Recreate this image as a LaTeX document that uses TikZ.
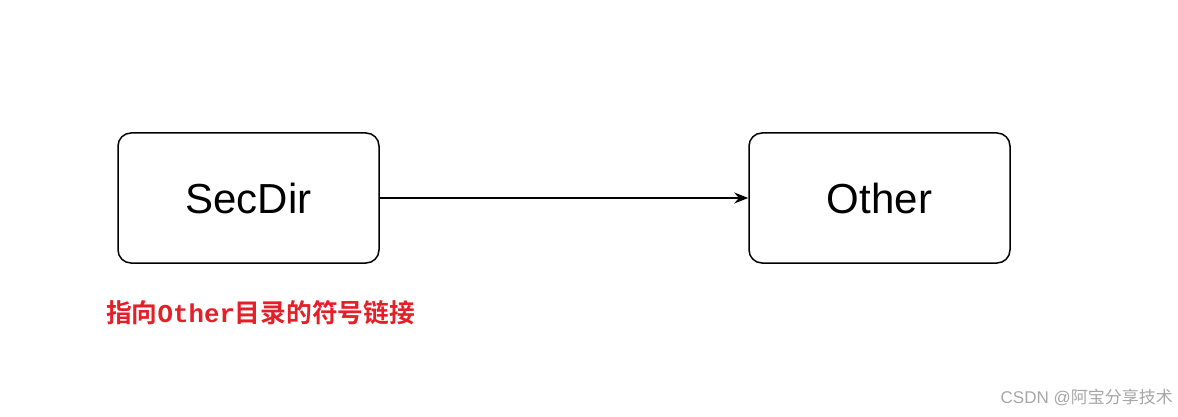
\documentclass[tikz,border=0pt]{standalone}
\usetikzlibrary{arrows.meta}
\usepackage{fontspec}
\setmainfont{Liberation Sans}
\newfontfamily\cjk{Noto Sans CJK SC}
\newfontfamily\cjkb{Noto Sans CJK SC Bold}
\newfontfamily\monob{Liberation Mono}
\definecolor{redt}{RGB}{230,30,40}
\begin{document}
\begin{tikzpicture}[x=1pt,y=-1pt,
  box/.style={draw=black,line width=1.5pt,rounded corners=13pt,minimum width=261pt,minimum height=130pt,font=\fontsize{42}{46}\selectfont,inner sep=0pt}]
\useasboundingbox (0,0) rectangle (1178,417);
\node[box] (a) at (248.5,198) {SecDir};
\node[box] (b) at (879.5,198) {Other};
\draw[line width=1.5pt,-{Stealth[length=14pt,width=11pt]}] (a.east) -- (b.west);
\node[anchor=west,inner sep=0pt,text=redt] (lbl) at (106,313) {\resizebox{309pt}{!}{\cjkb 指向{\monob\bfseries Other}目录的符号链接}};
\node[anchor=east,inner sep=0pt,text=black!35] (wm) at (1173,397) {\fontsize{17}{20}\selectfont CSDN @{\cjk 阿宝分享技术}};
\end{tikzpicture}
\end{document}
